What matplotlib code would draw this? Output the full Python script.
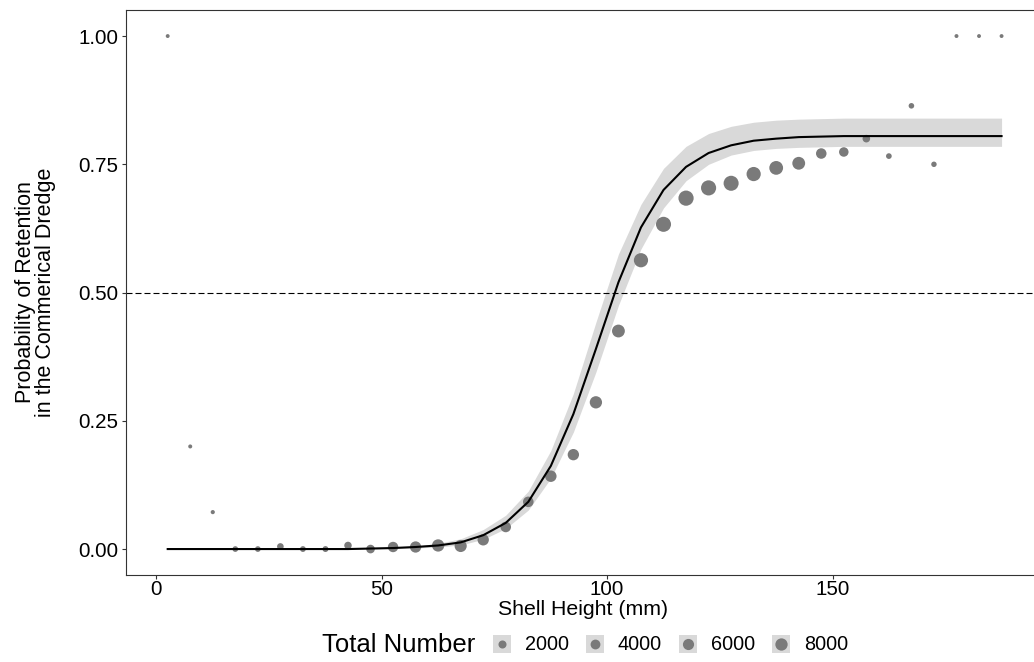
import numpy as np
import matplotlib
matplotlib.use("Agg")
import matplotlib.pyplot as plt
from matplotlib.patches import Rectangle
from matplotlib.lines import Line2D

plt.rcParams['font.family'] = ['Liberation Sans', 'DejaVu Sans']

# bin midpoints (mm)
shell_height = [2.5, 7.5, 12.5, 17.5, 22.5, 27.5, 32.5, 37.5, 42.5, 47.5,
                52.5, 57.5, 62.5, 67.5, 72.5, 77.5, 82.5, 87.5, 92.5, 97.5,
                102.5, 107.5, 112.5, 117.5, 122.5, 127.5, 132.5, 137.5, 142.5, 147.5,
                152.5, 157.5, 162.5, 167.5, 172.5, 177.5, 182.5, 187.5]

# observed proportion retained per bin
prop_retained = [1.00, 0.20, 0.072, 0.0, 0.0, 0.005, 0.0, 0.0, 0.007, 0.0,
                 0.004, 0.004, 0.007, 0.006, 0.018, 0.043, 0.092, 0.142, 0.184, 0.286,
                 0.425, 0.563, 0.633, 0.684, 0.704, 0.713, 0.731, 0.743, 0.752, 0.771,
                 0.774, 0.800, 0.766, 0.864, 0.750, 1.00, 1.00, 1.00]

# number of scallops measured per bin
total_number = [1, 5, 14, 400, 400, 900, 450, 500, 1500, 2600,
                4800, 6200, 8000, 7700, 6300, 5000, 5100, 6500, 6300, 8000,
                9000, 12000, 14000, 14400, 14200, 14000, 12000, 11000, 9000, 5000,
                3600, 1600, 400, 350, 300, 2, 1, 1]

# fitted logistic selectivity curve and 95% band
fit_prob = [0.0, 0.0, 0.0, 0.0, 0.0, 0.0, 0.0, 0.0, 0.0, 0.001,
            0.002, 0.004, 0.007, 0.013, 0.027, 0.051, 0.092, 0.162, 0.263, 0.390,
            0.520, 0.627, 0.700, 0.745, 0.772, 0.787, 0.796, 0.800, 0.803, 0.804,
            0.805, 0.805, 0.805, 0.805, 0.805, 0.805, 0.805, 0.805]
fit_lower = [0.0, 0.0, 0.0, 0.0, 0.0, 0.0, 0.0, 0.0, 0.0, 0.0,
             0.001, 0.002, 0.004, 0.008, 0.019, 0.040, 0.076, 0.138, 0.228, 0.345,
             0.475, 0.585, 0.665, 0.718, 0.750, 0.768, 0.777, 0.781, 0.783, 0.784,
             0.785, 0.785, 0.785, 0.785, 0.785, 0.785, 0.785, 0.785]
fit_upper = [0.0, 0.0, 0.0, 0.0, 0.0, 0.001, 0.001, 0.001, 0.001, 0.002,
             0.003, 0.006, 0.011, 0.020, 0.038, 0.066, 0.113, 0.192, 0.303, 0.442,
             0.575, 0.672, 0.742, 0.785, 0.810, 0.824, 0.832, 0.836, 0.838, 0.839,
             0.840, 0.840, 0.840, 0.840, 0.840, 0.840, 0.840, 0.840]

legend_breaks = [2000, 4000, 6000, 8000]

W, H = 1034, 662
DOT = '#7a7a7a'
BAND = '#d9d9d9'
FRAME = '#333333'


def dot_pt(n):
    # marker diameter in points, area scaled with count
    d_px = 3.8 + 0.095 * np.sqrt(np.asarray(n, dtype=float))
    return d_px * 72 / 100


fig = plt.figure(figsize=(W / 100, H / 100), dpi=100)
ax = fig.add_axes([126 / W, 1 - 574.7 / H, 915 / W, 564.3 / H])

ax.fill_between(shell_height, fit_lower, fit_upper, color=BAND, lw=0, zorder=1)
ax.scatter(shell_height, prop_retained, s=dot_pt(total_number) ** 2,
           color=DOT, edgecolors='none', zorder=2)
ax.axhline(0.5, color='black', lw=0.8, linestyle=(0, (5.4, 2.7)), zorder=2.5)
ax.plot(shell_height, fit_prob, color='black', lw=1.5, zorder=3)

ax.set_xlim(-6.75, 196.25)
ax.set_ylim(-0.05, 1.05)
ax.set_xticks([0, 50, 100, 150])
ax.set_yticks([0, 0.25, 0.5, 0.75, 1.0])
ax.set_yticklabels(['0.00', '0.25', '0.50', '0.75', '1.00'])

for sp in ax.spines.values():
    sp.set_color(FRAME)
    sp.set_linewidth(0.8)
ax.tick_params(direction='out', length=3, width=0.8, color=FRAME,
               labelsize=14.8, labelcolor='black')
ax.tick_params(axis='x', pad=1)
ax.tick_params(axis='y', pad=2.5)

ax.set_xlabel('Shell Height (mm)', fontsize=15.3, labelpad=0.5)
fig.text(35.5 / W, 1 - 292 / H, 'Probability of Retention\nin the Commerical Dredge',
         rotation=90, ha='center', va='center', multialignment='center',
         fontsize=15.5, linespacing=0.95)

# size legend along the bottom
fig.text(322 / W, 1 - 645 / H, 'Total Number', fontsize=18.5, ha='left', va='center')
for i, n in enumerate(legend_breaks):
    cx = 502 + 93 * i
    cy = 643.5
    fig.add_artist(Rectangle(((cx - 9) / W, 1 - (cy + 9) / H), 18 / W, 18 / H,
                             transform=fig.transFigure, fc=BAND, ec='none'))
    fig.add_artist(Line2D([cx / W], [1 - cy / H], marker='o', linestyle='none',
                          markersize=float(dot_pt(n)), markerfacecolor=DOT,
                          markeredgewidth=0, transform=fig.transFigure))
    fig.text((cx + 23) / W, 1 - 645 / H, str(n), fontsize=14.3, ha='left', va='center')

fig.savefig('out.png', dpi=100)
